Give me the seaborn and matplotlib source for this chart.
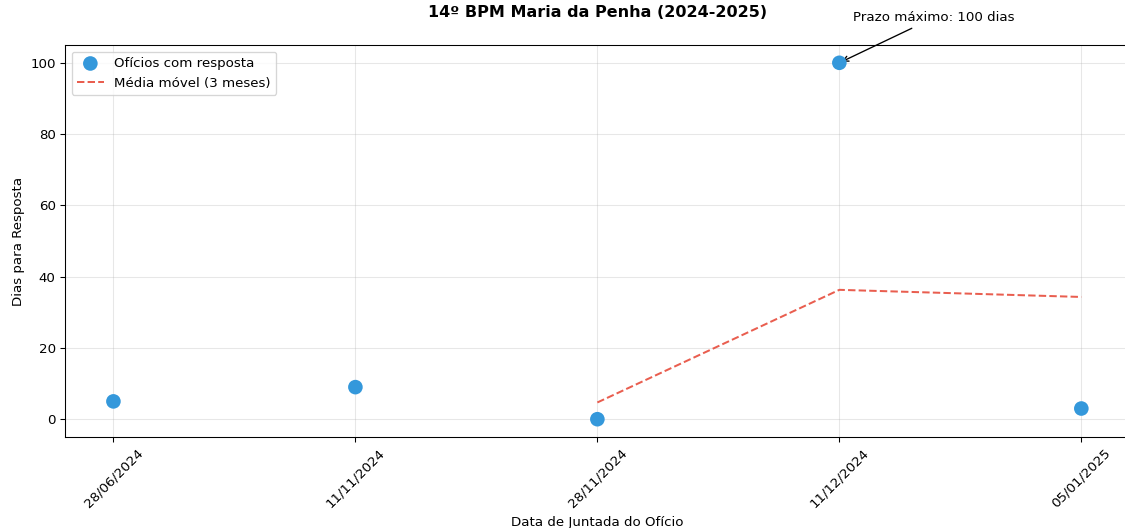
"""
Dias para resposta dos ofícios - 14º BPM Maria da Penha
"""
import matplotlib
matplotlib.use("Agg")
import pandas as pd
import seaborn as sns
from matplotlib import pyplot as plt

datas = ["28/06/2024", "11/11/2024", "28/11/2024", "11/12/2024", "05/01/2025"]
dias_resposta = [5, 9, 0, 100, 3]
# média móvel de 3 meses
media_movel = [None, None, 4.7, 36.3, 34.3]


def plot():
    df = pd.DataFrame({"data": datas, "dias": dias_resposta, "media": media_movel})

    fig = plt.figure(figsize=(1125 / 96, 528 / 96), dpi=96)
    ax = fig.add_axes([0.0578, 0.1723, 0.9464, 0.7425])

    sns.scatterplot(data=df, x="data", y="dias", ax=ax, s=120, color="#3498db",
                    edgecolor="none", zorder=5, label="Ofícios com resposta")
    sns.lineplot(data=df.dropna(), x="data", y="media", ax=ax, color="#e74c3c",
                 linestyle="--", linewidth=1.5, alpha=0.9, label="Média móvel (3 meses)")

    ax.set_xlim(-0.2, 4.2)
    ax.set_ylim(-5, 105)
    ax.grid(True, alpha=0.3)
    ax.set_axisbelow(True)

    ax.annotate("Prazo máximo: 100 dias", xy=(3, 100), xytext=(10, 31),
                textcoords="offset points", fontsize=10,
                arrowprops=dict(arrowstyle="->", color="black", lw=1))

    ax.set_title("Tempo de Resposta aos Ofícios - Evolução Temporal\n14º BPM Maria da Penha (2024-2025)",
                 fontsize=12, fontweight="bold", pad=21, linespacing=1.45)
    ax.set_xlabel("Data de Juntada do Ofício", fontsize=10)
    ax.set_ylabel("Dias para Resposta", fontsize=10)
    plt.setp(ax.get_xticklabels(), rotation=45)
    ax.legend(loc="upper left", fontsize=10)

    fig.savefig("out.png", dpi=96)


if __name__ == "__main__":
    plot()
